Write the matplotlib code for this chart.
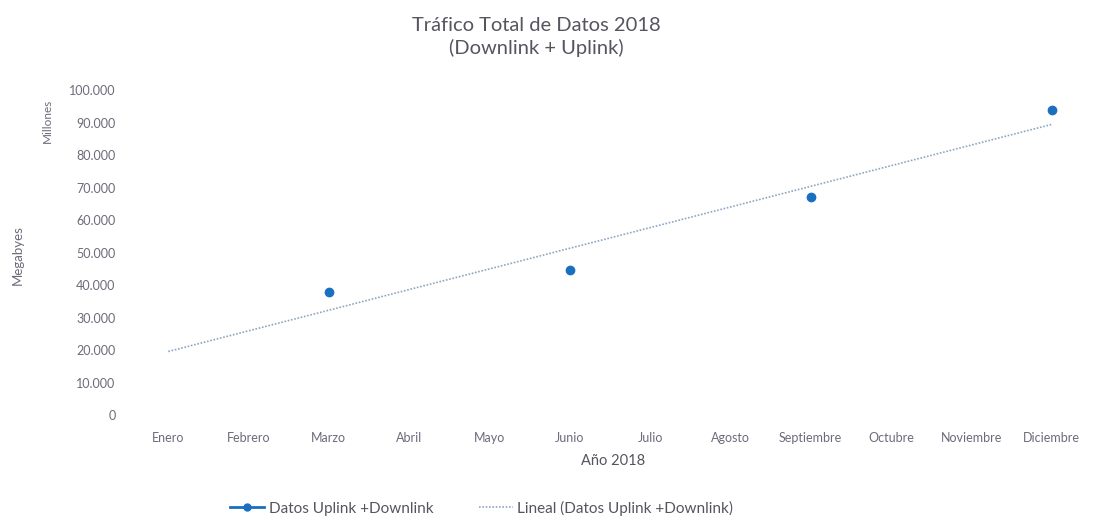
import numpy as np
import matplotlib.pyplot as plt
from matplotlib.lines import Line2D
from matplotlib.ticker import FuncFormatter

meses = ["Enero", "Febrero", "Marzo", "Abril", "Mayo", "Junio", "Julio",
         "Agosto", "Septiembre", "Octubre", "Noviembre", "Diciembre"]
meses_datos = ["Marzo", "Junio", "Septiembre", "Diciembre"]
trafico = [37800, 44700, 67000, 93900]  # millones de MB
y_ticks = [0, 10000, 20000, 30000, 40000, 50000, 60000, 70000, 80000, 90000, 100000]

plt.rcParams['font.family'] = ['Lato', 'DejaVu Sans']

gris = "#6b6b7b"
azul = "#1a6fc0"

if __name__ == '__main__':
    fig = plt.figure(figsize=(10.95, 5.24), dpi=100)
    ax = fig.add_axes([0.117, 0.208, 0.88, 0.62])

    x_all = np.arange(len(meses))
    x_pts = np.array([meses.index(m) for m in meses_datos])

    # linea de tendencia (ajuste lineal de los datos)
    m, b = np.polyfit(x_pts, trafico, 1)
    ax.plot(x_all, m * x_all + b, color="#8ea6c4", lw=1.2, ls=(0, (1, 1)))
    ax.plot(x_pts, trafico, "o", color=azul, ms=6)

    ax.set_xlim(-0.5, len(meses) - 0.5)
    ax.set_ylim(0, 100000)
    ax.set_xticks(x_all)
    ax.set_xticklabels(meses)
    ax.set_yticks(y_ticks)
    ax.yaxis.set_major_formatter(FuncFormatter(lambda v, p: f"{int(v):,}".replace(",", ".")))
    ax.tick_params(length=0, labelsize=9, colors=gris, pad=9)
    ax.tick_params(axis='x', pad=12)
    for s in ax.spines.values():
        s.set_visible(False)

    fig.text(0.49, 0.93, "Tráfico Total de Datos 2018\n(Downlink + Uplink)",
             ha="center", va="center", fontsize=14.5, color="#55555f", linespacing=1.35)
    fig.text(0.043, 0.77, "Millones", rotation=90, ha="center", va="center", fontsize=8.5, color=gris)
    fig.text(0.016, 0.513, "Megabyes", rotation=90, ha="center", va="center", fontsize=9.5, color=gris)
    fig.text(0.56, 0.12, "Año 2018", ha="center", va="center", fontsize=10.5, color="#55555f")

    handles = [Line2D([], [], color=azul, marker="o", ms=5, lw=2),
               Line2D([], [], color="#8ea6c4", lw=1.2, ls=(0, (1, 1)))]
    fig.legend(handles, ["Datos Uplink +Downlink", "Lineal (Datos Uplink +Downlink)"],
               loc="center", bbox_to_anchor=(0.44, 0.03), ncol=2, frameon=False,
               fontsize=11, labelcolor="#55555f", columnspacing=3, handlelength=2.2,
               handletextpad=0.3)

    fig.savefig("out.png", dpi=100)
